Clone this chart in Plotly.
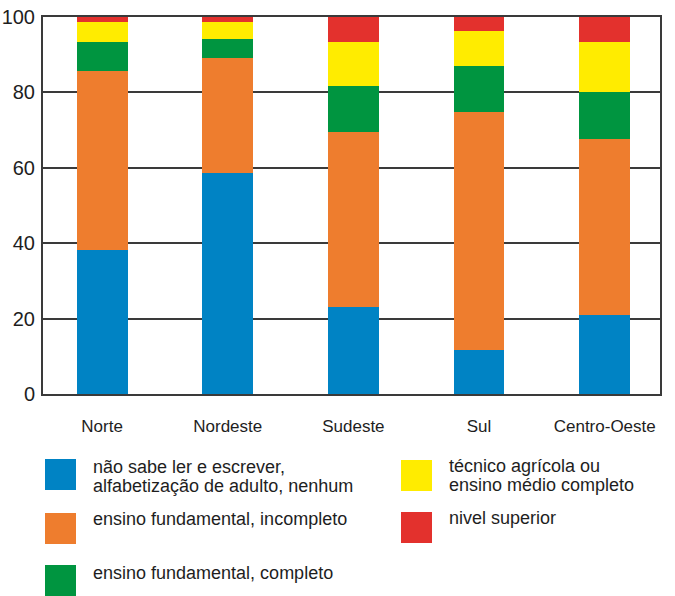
import plotly.graph_objects as go

categories = ["Norte", "Nordeste", "Sudeste", "Sul", "Centro-Oeste"]
series_names = [
    "não sabe ler e escrever,<br>alfabetização de adulto, nenhum",
    "ensino fundamental, incompleto",
    "ensino fundamental, completo",
    "técnico agrícola ou<br>ensino médio completo",
    "nivel superior",
]
nao_sabe = [38.2, 58.7, 23.1, 11.8, 21.0]
fund_incompleto = [47.6, 30.5, 46.5, 62.9, 46.7]
fund_completo = [7.7, 5.0, 12.2, 12.3, 12.5]
tecnico_medio = [5.1, 4.6, 11.6, 9.2, 13.2]
superior = [1.4, 1.2, 6.6, 3.8, 6.6]
colors = ["#0083C4", "#EE7D2E", "#009540", "#FFEC00", "#E3312D"]
y_ticks = [0, 20, 40, 60, 80, 100]

series_values = [nao_sabe, fund_incompleto, fund_completo, tecnico_medio, superior]

W, H = 675, 596
L, R, T, B = 43, 660, 17, 394
FONT = "Liberation Sans, Arial, sans-serif"
LINE = "#3a3a3a"
TXT = "#1e1e1e"

fig = go.Figure()
for name, vals, col in zip(series_names, series_values, colors):
    fig.add_trace(go.Bar(x=categories, y=vals, name=name.replace("<br>", " "),
                         marker=dict(color=col, line=dict(width=0)),
                         width=0.405, showlegend=False))

fig.update_layout(
    barmode="stack",
    width=W, height=H,
    margin=dict(l=L, r=W - R, t=T, b=H - B, pad=0, autoexpand=False),
    paper_bgcolor="white", plot_bgcolor="white",
    font=dict(family=FONT, color=TXT),
    xaxis=dict(range=[-0.47, 4.44], showgrid=False, showline=True, linecolor=LINE, linewidth=2,
               mirror=True, ticks="", tickfont=dict(size=17, family=FONT, color=TXT),
               ticklabelstandoff=16, automargin=False, fixedrange=True),
    yaxis=dict(range=[0, 100], tickvals=y_ticks, showgrid=True, gridcolor=LINE, gridwidth=2,
               showline=True, linecolor=LINE, linewidth=2, mirror=True, ticks="",
               tickfont=dict(size=20, family=FONT, color=TXT), ticklabelstandoff=2,
               zeroline=False, layer="below traces", automargin=False, fixedrange=True),
)

def px_x(p):
    return (p - L) / (R - L)

def px_y(p):
    return (B - p) / (B - T)

# custom legend (two columns): square (x, y) and text baselines, in page pixels
legend_slots = [
    (45, 459, [473, 491]),
    (45, 513, [524]),
    (45, 565, [578]),
    (401, 460, [471, 490]),
    (401, 512, [523]),
]
for (sx, sy, baselines), name, col in zip(legend_slots, series_names, colors):
    fig.add_shape(type="rect", xref="paper", yref="paper",
                  x0=px_x(sx), x1=px_x(sx + 31), y0=px_y(sy + 31), y1=px_y(sy),
                  fillcolor=col, line=dict(width=0), layer="above")
    for line_text, base in zip(name.split("<br>"), baselines):
        fig.add_annotation(xref="paper", yref="paper", x=px_x(sx + 46), y=px_y(base - 5.5),
                           xanchor="left", yanchor="middle", align="left", showarrow=False,
                           text=line_text, font=dict(size=18, family=FONT, color=TXT))

fig.write_html("out.html", config={"displayModeBar": False, "staticPlot": True},
               post_script="document.body.style.margin='0';")
